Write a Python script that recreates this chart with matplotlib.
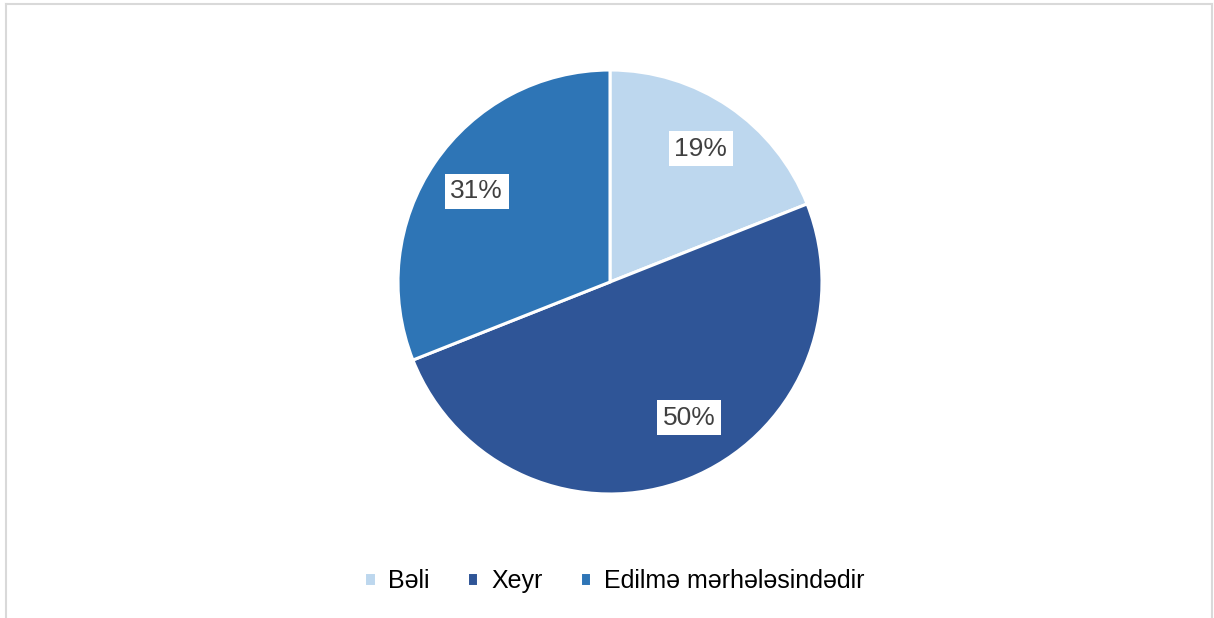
import matplotlib
matplotlib.use('Agg')
import matplotlib.pyplot as plt
from matplotlib.lines import Line2D
import numpy as np

labels = ['Bəli', 'Xeyr', 'Edilmə mərhələsindədir']
values = [19, 50, 31]
colors = ['#BDD7EE', '#2F5597', '#2E75B6']

plt.rcParams['font.family'] = ['Liberation Sans', 'DejaVu Sans']

W, H = 1214, 618
fig = plt.figure(figsize=(W / 100, H / 100), dpi=100)

# pie centre ~ (610, 282) px, radius ~ 212 px
cx, cy, r = 610 / W, 1 - 282 / H, 212
ax = fig.add_axes([cx - r / W, cy - r / H, 2 * r / W, 2 * r / H])

wedges, texts, autotexts = ax.pie(
    values, colors=colors, startangle=90, counterclock=False,
    autopct='%d%%', pctdistance=0.76, radius=1.0,
    wedgeprops=dict(edgecolor='white', linewidth=2.2),
    textprops=dict(fontsize=19, color='#404040'))
for t in autotexts:
    t.set_bbox(dict(facecolor='white', edgecolor='none', pad=4))

# the big slice's label sits a bit off the slice middle, as in the original
w = wedges[1]
th = np.deg2rad((w.theta1 + w.theta2) / 2 + 8.6)
autotexts[1].set_position((0.74 * np.cos(th), 0.74 * np.sin(th)))

ax.set_xlim(-1, 1)
ax.set_ylim(-1, 1)
ax.set_aspect('equal')

leg = fig.legend(wedges, labels, loc='center', bbox_to_anchor=(0.506, 1 - 581 / H),
                 ncol=3, frameon=False, fontsize=18, handlelength=0.45,
                 handleheight=0.45, handletextpad=0.5, columnspacing=1.5)

# light frame round the chart (no bottom edge)
bc = '#D9D9D9'
x0, x1, y1 = 6 / W, 1212 / W, 1 - 4 / H
fig.add_artist(Line2D([x0, x0], [0, y1], color=bc, lw=1.5, transform=fig.transFigure))
fig.add_artist(Line2D([x0, x1], [y1, y1], color=bc, lw=1.5, transform=fig.transFigure))
fig.add_artist(Line2D([x1, x1], [0, y1], color=bc, lw=1.5, transform=fig.transFigure))

fig.savefig('out.png', dpi=100)
